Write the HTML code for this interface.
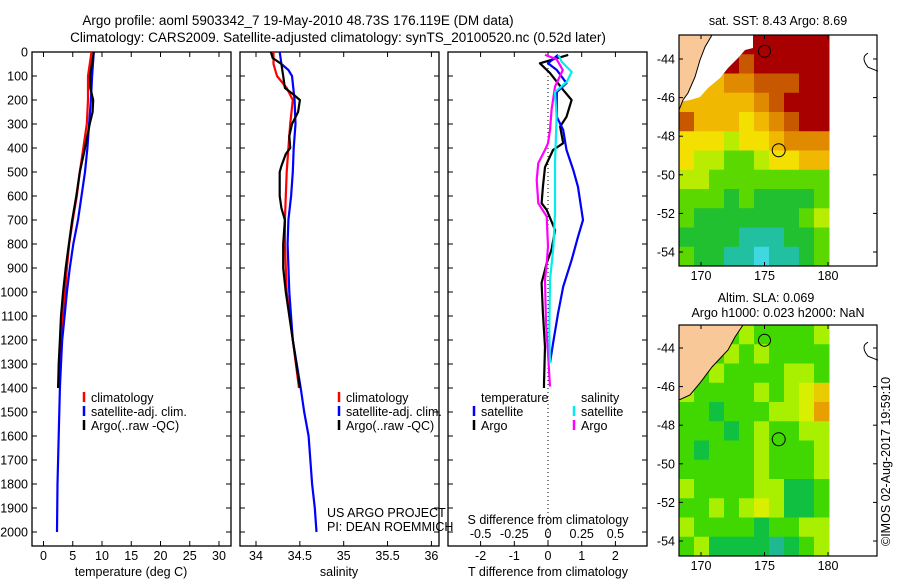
<!DOCTYPE html>
<html><head><meta charset="utf-8"><style>
html,body{margin:0;padding:0;background:#fff;}
svg{display:block;font-family:"Liberation Sans",sans-serif;}
text{font-size:12.5px;fill:#000;}
</style></head><body>
<svg id="fig" width="900" height="580" viewBox="0 0 900 580">
<text x="298" y="25" text-anchor="middle" style="font-size:13.5px">Argo profile: aoml 5903342_7 19-May-2010 48.73S 176.119E (DM data)</text>
<text x="338" y="42" text-anchor="middle" style="font-size:13.5px">Climatology: CARS2009. Satellite-adjusted climatology: synTS_20100520.nc (0.52d later)</text>
<g id="plots"></g>
<text x="778" y="25" text-anchor="middle">sat. SST: 8.43 Argo: 8.69</text>
<text x="766" y="302" text-anchor="middle">Altim. SLA: 0.069</text>
<text x="778" y="317" text-anchor="middle">Argo h1000: 0.023 h2000: NaN</text>
<text transform="translate(890,546) rotate(-90)">©IMOS 02-Aug-2017 19:59:10</text>
<text x="327" y="517">US ARGO PROJECT</text>
<text x="327" y="531">PI: DEAN ROEMMICH</text>
</svg>
<script>
// ---- data ----
const depthTicks=[0,100,200,300,400,500,600,700,800,900,1000,1100,1200,1300,1400,1500,1600,1700,1800,1900,2000];
const tempTicks=[0,5,10,15,20,25,30];
const salTicks=[34,34.5,35,35.5,36];
const salTickLabels=["34","34.5","35","35.5","36"];
const tdiffTicks=[-2,-1,0,1,2];
const sdiffTicks=[-0.5,-0.25,0,0.25,0.5];
// temperature profiles
const tClimDepth=[0,100,200,300,400,500,600,700,800,900,1000,1100,1200,1300,1400];
const tClim=[8.2,7.6,7.6,7.4,6.8,6.2,5.7,5.0,4.4,4.0,3.7,3.3,3.0,2.8,2.6];
const tSatDepth=[0,100,200,300,400,500,600,700,800,900,1000,1100,1200,1300,1400,1500,1600,1800,2000];
const tSat=[8.6,8.3,8.1,7.8,7.5,7.1,6.5,5.9,5.1,4.5,4.0,3.6,3.2,3.0,2.8,2.7,2.6,2.4,2.3];
const tArgoDepth=[0,100,150,200,250,300,400,500,600,700,800,900,1000,1100,1200,1300,1400];
const tArgo=[8.6,7.95,8.0,8.5,8.4,7.9,7.1,6.2,5.6,4.9,4.35,3.8,3.35,3.0,2.8,2.6,2.5];
// salinity profiles
const sClimDepth=[0,50,100,150,200,300,400,500,600,700,800,1000,1200,1400];
const sClim=[34.2,34.2,34.24,34.35,34.42,34.39,34.37,34.35,34.34,34.33,34.33,34.35,34.42,34.49];
const sSatDepth=[0,50,75,100,200,300,400,500,600,700,800,1000,1200,1400,1500,1600,1800,1900,2000];
const sSat=[34.27,34.29,34.37,34.41,34.44,34.45,34.43,34.42,34.40,34.37,34.36,34.38,34.42,34.51,34.55,34.60,34.64,34.67,34.69];
const sArgoDepth=[0,25,50,100,150,175,200,250,300,350,400,425,475,500,600,650,700,800,900,1000,1200,1400];
const sArgo=[34.17,34.19,34.29,34.31,34.33,34.42,34.50,34.48,34.41,34.38,34.39,34.34,34.29,34.27,34.27,34.29,34.33,34.31,34.31,34.34,34.42,34.5];
// difference profiles
const dTArgoDepth=[12,47,88,158,200,270,311,380,408,480,562,630,658,742,825,880,962,1088,1228,1380,1400];
const dTArgo=[0.6,-0.24,0.06,0.45,0.70,0.55,0.36,0.45,0.15,-0.09,-0.15,-0.19,-0.04,0.21,0.1,-0.04,-0.19,-0.15,-0.09,-0.12,-0.12];
const dTSatDepth=[12,47,75,130,167,270,325,408,492,562,700,770,867,978,1088,1213,1296];
const dTSat=[0.3,0,0.26,0.55,0.26,0.26,0.45,0.55,0.75,0.89,1.04,0.89,0.70,0.45,0.30,0.15,0.06];
const dSArgoDepth=[12,30,75,144,240,325,380,408,463,533,630,686,811,880,950,1130,1255,1394];
const dSArgo=[-0.022,0.064,0.11,0.052,0.027,0.015,0,-0.022,-0.072,-0.084,-0.072,-0.01,0,-0.01,-0.022,-0.015,0,0.015];
const dSSatDepth=[12,40,83,125,167,270,463,672,811,950,1158,1296];
const dSSat=[0.077,0.1,0.176,0.139,0.052,0.064,0.052,0.052,0.04,0.015,0.01,0.015];
// map grids (colour class per cell)
const sstGrid=[
"0000000000","0000100000","2332211100","3333321000","1333432100","4445443222",
"4556654433","5566666666","6667677776","6777777765","7777888776","6778898876"];
const slaGrid=[
"6656566665","6665656666","6656666556","5666656543","6676665542","6667656655",
"6766656665","6666656665","5666655776","6656545776","5666676655","6577778765"];
const mapLonTicks=[170,175,180];
const mapLatTicks=[-44,-46,-48,-50,-52,-54];

// ---- helpers ----
const NS="http://www.w3.org/2000/svg";
const root=document.getElementById('plots');
function mk(tag,attrs,parent){const e=document.createElementNS(NS,tag);for(const k in attrs)e.setAttribute(k,attrs[k]);(parent||root).appendChild(e);return e;}
const Y0=52,YB=546;
const yDepth=d=>Y0+d*0.24;
const xTemp=t=>43.5+t*5.85;
const xSal=s=>256+(s-34)*87.7;
const xTd=d=>548+d*33.7;
const xSd=s=>548+s*134.8;

function frame(x0,x1,name){
  const r=mk('rect',{x:x0,y:Y0,width:x1-x0,height:YB-Y0,fill:'none',stroke:'#000','stroke-width':1.3});
  
  
  depthTicks.forEach(d=>{
    mk('line',{x1:x0,x2:x0+5,y1:yDepth(d),y2:yDepth(d),stroke:'#000'});
    mk('line',{x1:x1,x2:x1-5,y1:yDepth(d),y2:yDepth(d),stroke:'#000'});
  });
}
function xticks(ticks,labels,fx,x0,x1,name,ly){
  ticks.forEach((t,i)=>{
    const x=fx(t);
    mk('line',{x1:x,x2:x,y1:Y0,y2:Y0+5,stroke:'#000'});
    mk('line',{x1:x,x2:x,y1:YB,y2:YB-5,stroke:'#000'});
    if(labels){const tx=mk('text',{x:x,y:ly||560,'text-anchor':'middle'});tx.textContent=labels[i];
    
    }
  });
}
function line(xs,ds,fx,color,name,w){
  const p=mk('polyline',{points:xs.map((v,i)=>fx(v).toFixed(1)+','+yDepth(ds[i]).toFixed(1)).join(' '),fill:'none',stroke:color,'stroke-width':w||2.2,'stroke-linejoin':'round'});
  
  
}
function legend(x,y,items){
  items.forEach((it,i)=>{
    mk('line',{x1:x,x2:x,y1:y+i*14-10,y2:y+i*14,stroke:it[1],'stroke-width':2.5});
    const t=mk('text',{x:x+7,y:y+i*14});t.textContent=it[0];
    
    
  });
}

depthTicks.forEach(d=>{const t=mk('text',{x:28,y:yDepth(d)+4.5,'text-anchor':'end'});t.textContent=d;

});

// panel 1 temperature
frame(32,231,'temperature-panel');
xticks(tempTicks,tempTicks.map(String),xTemp,32,231,'temperature');
line(tClim,tClimDepth,xTemp,'#f00','temp-climatology-line');
line(tSat,tSatDepth,xTemp,'#00f','temp-satellite-line');
line(tArgo,tArgoDepth,xTemp,'#000','temp-argo-line');
legend(84,402,[['climatology','#f00'],['satellite-adj. clim.','#00f'],['Argo(..raw -QC)','#000']]);
let t=mk('text',{x:131,y:576,'text-anchor':'middle'});t.textContent='temperature (deg C)';



// panel 2 salinity
frame(240,439,'salinity-panel');
xticks(salTicks,salTickLabels,xSal,240,439,'salinity');
line(sClim,sClimDepth,xSal,'#f00','sal-climatology-line');
line(sSat,sSatDepth,xSal,'#00f','sal-satellite-line');
line(sArgo,sArgoDepth,xSal,'#000','sal-argo-line');
legend(339,402,[['climatology','#f00'],['satellite-adj. clim.','#00f'],['Argo(..raw -QC)','#000']]);
t=mk('text',{x:339,y:576,'text-anchor':'middle'});t.textContent='salinity';



// panel 3 differences
frame(448,647,'difference-panel');
xticks(tdiffTicks,tdiffTicks.map(String),xTd,448,647,'t-difference');
sdiffTicks.forEach(s=>{const tx=mk('text',{x:xSd(s),y:538,'text-anchor':'middle'});tx.textContent=String(s);

});
mk('line',{x1:548,x2:548,y1:Y0,y2:YB,stroke:'#000','stroke-dasharray':'1,3'});
line(dTArgo,dTArgoDepth,xTd,'#000','tdiff-argo-line');
line(dTSat,dTSatDepth,xTd,'#00f','tdiff-satellite-line');
line(dSArgo,dSArgoDepth,xSd,'#f0f','sdiff-argo-line');
line(dSSat,dSSatDepth,xSd,'#0ee','sdiff-satellite-line');
t=mk('text',{x:481,y:402});t.textContent='temperature';


t=mk('text',{x:581,y:402});t.textContent='salinity';


legend(474,416,[['satellite','#00f'],['Argo','#000']]);
legend(574,416,[['satellite','#0ee'],['Argo','#f0f']]);
t=mk('text',{x:548,y:524,'text-anchor':'middle'});t.textContent='S difference from climatology';


t=mk('text',{x:548,y:576,'text-anchor':'middle'});t.textContent='T difference from climatology';



// ---- maps ----
const sstCols=['#a80000','#c85800','#e08a00','#f0b800','#f4e000','#b8ec00','#5ad800','#20c030','#20c0a0','#40d8e0'];
const slaCols=['#a80000','#c85800','#e8a000','#e8cc00','#d8f000','#a8f000','#40d800','#10c040','#20b890','#30d0d0'];
function map(top,bot,lat44,grid,cols,name,isSST){
  const L=679,R=877,DR=829;
  const lon=v=>701+(v-170)*12.7;
  const latY=v=>lat44+(-44-v)*19.3;
  const g=mk('g',{});
  
  
  const rows=grid.length, ncol=grid[0].length;
  const cw=(DR-L)/ncol, ch=(bot-top)/rows;
  grid.forEach((row,r)=>{[...row].forEach((c,ci)=>{
    mk('rect',{x:L+ci*cw,y:top+r*ch,width:cw+0.5,height:ch+0.5,fill:cols[+c]},g);
  });});
  let land;
  if(isSST){
    mk('polygon',{points:`712,${top} 753,${top} 753,${top+13} 745,${top+15} 738,${top+23} 728,${top+33} 720,${top+43} 708,${top+53} 700,${top+62} 690,${top+65} 679,${top+67} 679,${top+75} 683,${top+65} 688,${top+58} 695,${top+42} 700,${top+25} 705,${top+12}`,fill:'#fff'},g);
    land=`${L},${top} 712,${top} 705,${top+12} 700,${top+25} 695,${top+42} 688,${top+58} 683,${top+65} ${L},${top+75}`;
  } else {
    land=`${L},${top} 743,${top} 735,${top+12} 728,${top+25} 712,${top+42} 700,${top+58} 690,${top+70} ${L},${top+75}`;
  }
  mk('polygon',{points:land,fill:'#f8c898',stroke:'#000','stroke-width':1},g);
  mk('circle',{cx:lon(175),cy:latY(-43.6),r:6,fill:'none',stroke:'#000'},g);
  mk('circle',{cx:lon(176.12),cy:latY(-48.73),r:6.5,fill:'none',stroke:'#000'},g);
  mk('path',{d:`M868,${latY(-43.7)} q-8,4 0,14 l10,4`,fill:'none',stroke:'#000'},g);
  mk('rect',{x:L,y:top,width:R-L,height:bot-top,fill:'none',stroke:'#000','stroke-width':1.2},g);
  mapLatTicks.forEach(v=>{const yy=latY(v);
    mk('line',{x1:L,x2:L+4,y1:yy,y2:yy,stroke:'#000'},g);
    mk('line',{x1:R,x2:R-4,y1:yy,y2:yy,stroke:'#000'},g);
    const tx=mk('text',{x:L-4,y:yy+4.5,'text-anchor':'end'},g);tx.textContent=v;
    
    
  });
  mapLonTicks.forEach(v=>{const x=lon(v);
    mk('line',{x1:x,x2:x,y1:top,y2:top+4,stroke:'#000'},g);
    mk('line',{x1:x,x2:x,y1:bot,y2:bot-4,stroke:'#000'},g);
    const tx=mk('text',{x:x,y:bot+14,'text-anchor':'middle'},g);tx.textContent=v;
    
    
  });
}
map(35,266,59,sstGrid,sstCols,'sst-map',true);
map(325,556,348,slaGrid,slaCols,'sla-map',false);
</script>
</body></html>
